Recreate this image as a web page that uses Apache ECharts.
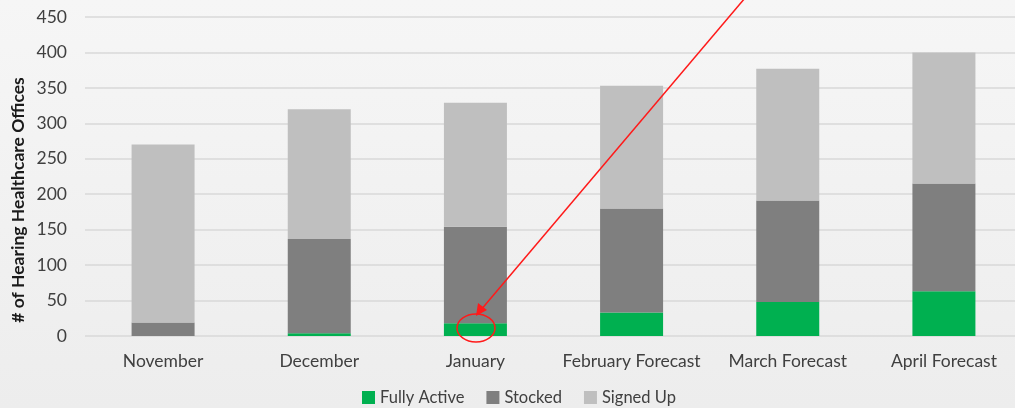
<!DOCTYPE html>
<html><head><meta charset="UTF-8">
<title>Hearing Healthcare Offices</title>
<style>html,body{margin:0;padding:0}#chart{width:1015px;height:408px}</style>
<script src="https://cdn.jsdelivr.net/npm/echarts@6/dist/echarts.min.js"></script>
</head>
<body>
<div id="chart"></div>
<script>
// values
const months = ['November', 'December', 'January', 'February Forecast', 'March Forecast', 'April Forecast'];
const fullyActive = [0, 4, 18, 33, 48, 63];
const stocked = [19, 133, 136, 147, 143, 152];
const signedUp = [251, 183, 175, 173, 186, 185];
const yTicks = [0, 50, 100, 150, 200, 250, 300, 350, 400, 450];

const font = 'Lato, "Open Sans", sans-serif';
const chart = echarts.init(document.getElementById('chart'));

function bar(name, data, color) {
    return { name: name, type: 'bar', stack: 'total', data: data, barWidth: 63,
             itemStyle: { color: color }, emphasis: { disabled: true } };
}

chart.setOption({
    backgroundColor: new echarts.graphic.LinearGradient(0, 0, 0, 1, [
        { offset: 0, color: '#f6f6f6' }, { offset: 1, color: '#ededed' }
    ]),
    animation: false,
    textStyle: { fontFamily: font },
    grid: { left: 85, width: 937, top: 17, bottom: 72, containLabel: false, outerBoundsMode: 'none' },
    legend: {
        bottom: -3, left: 357, itemWidth: 13, itemHeight: 13, itemGap: 22,
        icon: 'rect',
        textStyle: { fontSize: 16.5, color: '#404040', fontFamily: font },
        data: ['Fully Active', 'Stocked', 'Signed Up']
    },
    xAxis: {
        type: 'category', data: months,
        axisLine: { show: false }, axisTick: { show: false },
        axisLabel: { fontSize: 17.5, color: '#404040', margin: 16, interval: 0 }
    },
    yAxis: {
        type: 'value', min: yTicks[0], max: yTicks[yTicks.length - 1], interval: 50,
        axisLine: { show: false }, axisTick: { show: false },
        axisLabel: { fontSize: 17.5, color: '#404040', margin: 18 },
        splitLine: { lineStyle: { color: '#d9d9d9', width: 1.5 } }
    },
    series: [
        bar('Fully Active', fullyActive, '#00b050'),
        bar('Stocked', stocked, '#7f7f7f'),
        bar('Signed Up', signedUp, '#bfbfbf')
    ],
    graphic: [
        { type: 'text', x: 18, y: 200, rotation: Math.PI / 2,
          style: { text: '# of Hearing Healthcare Offices', fontSize: 17.5, fontWeight: 'bold',
                   fill: '#1a1a1a', fontFamily: font, align: 'center', verticalAlign: 'middle' } },
        { type: 'line', shape: { x1: 745, y1: -2, x2: 480, y2: 311 },
          style: { stroke: '#ff1a1a', lineWidth: 1.5 }, z: 100 },
        { type: 'polygon', shape: { points: [[476, 316], [478, 303], [487, 310]] },
          style: { fill: '#ff1a1a' }, z: 100 },
        { type: 'ellipse', shape: { cx: 476, cy: 328, rx: 19, ry: 14 },
          style: { stroke: '#ff1a1a', fill: 'none', lineWidth: 1.5 }, z: 100 }
    ]
});
</script>
</body></html>
